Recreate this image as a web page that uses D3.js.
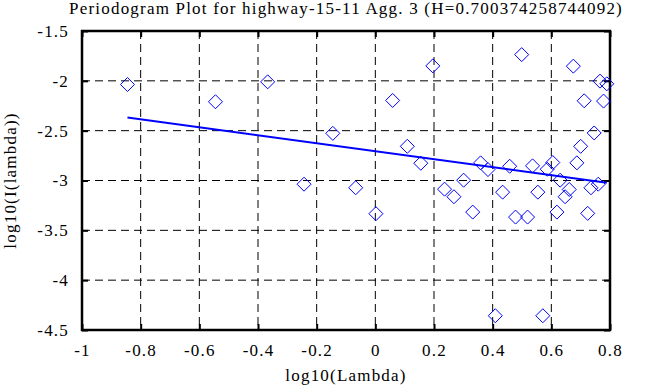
<!DOCTYPE html>
<html>
<head>
<meta charset="utf-8">
<script src="https://cdn.jsdelivr.net/npm/d3@7"></script>
<style>
  body { margin: 0; background: #fff; }
  svg text { font-family: "Liberation Serif", "Times New Roman", serif; fill: #000; letter-spacing: 1.2px; }
</style>
</head>
<body>
<svg id="chart" width="668" height="387"></svg>
<script>
// periodogram points (log10 lambda, log10 I(lambda))
var logLambda = [-0.845, -0.545, -0.367, -0.243, -0.145, -0.067, 0.002, 0.059, 0.109, 0.155,
    0.196, 0.236, 0.268, 0.301, 0.332, 0.359, 0.384, 0.409, 0.434, 0.458,
    0.478, 0.499, 0.519, 0.536, 0.554, 0.571, 0.586, 0.605, 0.619, 0.630,
    0.647, 0.661, 0.675, 0.687, 0.700, 0.712, 0.724, 0.735, 0.746, 0.760,
    0.766, 0.778, 0.789]
var logI = [-2.037, -2.21, -2.01, -3.037, -2.527, -3.073, -3.333, -2.197, -2.657, -2.827,
    -1.85, -3.087, -3.163, -2.997, -3.317, -2.823, -2.89, -4.357, -3.117, -2.857,
    -3.367, -1.737, -3.367, -2.853, -3.117, -4.357, -2.887, -2.82, -3.317, -2.997,
    -3.163, -3.09, -1.853, -2.823, -2.657, -2.2, -3.33, -3.073, -2.523, -3.037,
    -2.003, -2.203, -2.03]

// least squares fit end points
var fitX = [-0.845, 0.789]
var fitY = [-2.367, -3.022]

var xTicks = [-1, -0.8, -0.6, -0.4, -0.2, 0, 0.2, 0.4, 0.6, 0.8]
var yTicks = [-4.5, -4, -3.5, -3, -2.5, -2, -1.5]

var titleText = "Periodogram Plot for highway-15-11 Agg. 3 (H=0.700374258744092)"

var margin = { top: 31, right: 58, bottom: 57, left: 82 },
    width = 668 - margin.left - margin.right,
    height = 387 - margin.top - margin.bottom

var svg = d3.select("#chart")
var g = svg.append("g")
    .attr("transform", "translate(" + margin.left + "," + margin.top + ")")

var x = d3.scaleLinear().domain([-1, 0.8]).range([0, width])
var y = d3.scaleLinear().domain([-4.5, -1.5]).range([height, 0])

// dashed grid
g.selectAll(".vgrid")
    .data(xTicks.slice(1, -1))
    .enter().append("line")
    .attr("x1", d => x(d)).attr("x2", d => x(d))
    .attr("y1", 0).attr("y2", height)
    .attr("stroke", "#000").attr("stroke-width", 1)
    .attr("stroke-dasharray", "8,5")

g.selectAll(".hgrid")
    .data(yTicks.slice(1, -1))
    .enter().append("line")
    .attr("x1", 0).attr("x2", width)
    .attr("y1", d => y(d)).attr("y2", d => y(d))
    .attr("stroke", "#000").attr("stroke-width", 1)
    .attr("stroke-dasharray", "8,5")

// axes, ticks pointing inwards on all four sides
function styleAxis(sel) {
    sel.attr("font-family", null).attr("font-size", null)
    sel.select(".domain").remove()
    sel.selectAll(".tick line").attr("stroke", "#000").attr("stroke-width", 2)
    sel.selectAll(".tick text")
        .style("font-family", '"Liberation Serif", serif')
        .style("font-size", "17px")
}

var fmt = d => String(d)

g.append("g")
    .attr("transform", "translate(0," + height + ")")
    .call(d3.axisBottom(x).tickValues(xTicks).tickSize(-6).tickPadding(14).tickFormat(fmt))
    .call(styleAxis)

g.append("g")
    .call(d3.axisLeft(y).tickValues(yTicks).tickSize(-6).tickPadding(13).tickFormat(fmt))
    .call(styleAxis)

g.append("g")
    .call(d3.axisTop(x).tickValues(xTicks).tickSize(-6).tickFormat(""))
    .call(styleAxis)

g.append("g")
    .attr("transform", "translate(" + width + ",0)")
    .call(d3.axisRight(y).tickValues(yTicks).tickSize(-6).tickFormat(""))
    .call(styleAxis)

// frame
g.append("rect")
    .attr("width", width).attr("height", height)
    .attr("fill", "none").attr("stroke", "#000").attr("stroke-width", 2.5)

// fit line
var line = d3.line().x(d => x(d[0])).y(d => y(d[1]))
g.append("path")
    .datum(d3.zip(fitX, fitY))
    .attr("d", line)
    .attr("fill", "none")
    .attr("stroke", "#0000ff")
    .attr("stroke-width", 2)

// diamonds
var pts = d3.zip(logLambda, logI)
g.selectAll(".pt")
    .data(pts)
    .enter().append("path")
    .attr("class", "pt")
    .attr("transform", d => "translate(" + x(d[0]) + "," + y(d[1]) + ")")
    .attr("d", "M0,-7L7,0L0,7L-7,0Z")
    .attr("fill", "none")
    .attr("stroke", "#0000ff")
    .attr("stroke-width", 1)

// labels
svg.append("text")
    .attr("x", margin.left + width / 2).attr("y", 14)
    .attr("text-anchor", "middle")
    .style("font-size", "17px")
    .text(titleText)

svg.append("text")
    .attr("x", margin.left + width / 2).attr("y", 381)
    .attr("text-anchor", "middle")
    .style("font-size", "17px")
    .text("log10(Lambda)")

svg.append("text")
    .attr("transform", "translate(16," + (margin.top + height / 2) + ") rotate(-90)")
    .attr("text-anchor", "middle")
    .style("font-size", "17px")
    .text("log10(I(lambda))")
</script>
</body>
</html>
